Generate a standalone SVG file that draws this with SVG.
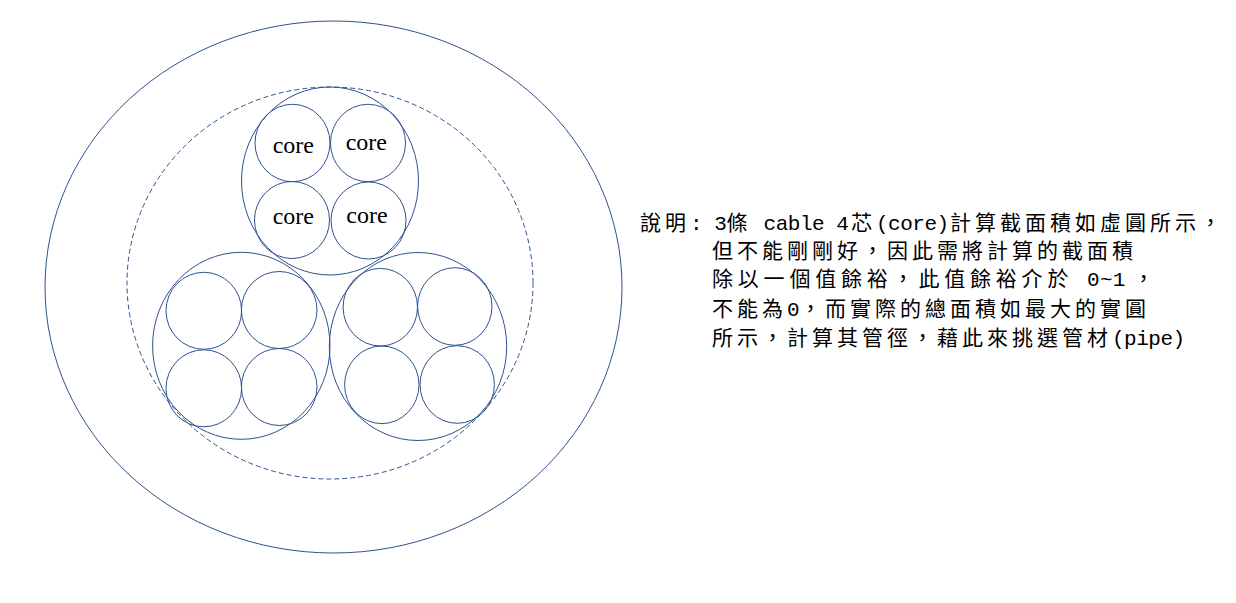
<svg xmlns="http://www.w3.org/2000/svg" width="1236" height="603" viewBox="0 0 1236 603">
<style>
.c{fill:none;stroke:#2F528F;stroke-width:1}
.d{fill:none;stroke:#2F528F;stroke-width:1;stroke-dasharray:5 3}
.core{font-family:"Liberation Serif","Times New Roman",serif;font-size:24px;fill:#000;text-anchor:middle}
.t{font-family:"Noto Sans CJK TC","Liberation Sans",sans-serif;font-size:21px;fill:#000}
.k{letter-spacing:4px}
.l{font-family:"Liberation Mono","Noto Sans CJK TC",monospace;font-size:21px;letter-spacing:-0.5px}
</style>
<rect width="1236" height="603" fill="#fff"/>
<g id="outer-pipe"><ellipse class="c" cx="333.5" cy="287" rx="288.5" ry="266"/></g>
<g id="dashed-area"><ellipse class="d" cx="330" cy="283" rx="203" ry="196"/></g>
<g id="cable-top">
<ellipse class="c" cx="330" cy="181" rx="88.5" ry="94"/>
<ellipse class="c" cx="292.5" cy="143" rx="37.5" ry="38.7"/>
<ellipse class="c" cx="368" cy="143" rx="37.5" ry="38.7"/>
<ellipse class="c" cx="292" cy="220" rx="37.5" ry="38.5"/>
<ellipse class="c" cx="368.5" cy="220.5" rx="37.5" ry="38.5"/>
<text class="core" x="293.3" y="152.5">core</text>
<text class="core" x="366.3" y="150">core</text>
<text class="core" x="293.3" y="224">core</text>
<text class="core" x="367" y="222.5">core</text>
</g>
<g id="cable-left">
<ellipse class="c" cx="241.3" cy="345.8" rx="88.7" ry="93.5"/>
<ellipse class="c" cx="203.8" cy="310.8" rx="37.8" ry="38.5"/>
<ellipse class="c" cx="279.2" cy="310" rx="37.8" ry="38.5"/>
<ellipse class="c" cx="203.8" cy="388.3" rx="37.8" ry="38.5"/>
<ellipse class="c" cx="279.2" cy="387" rx="37.8" ry="38.5"/>
</g>
<g id="cable-right">
<ellipse class="c" cx="418" cy="346.5" rx="88.7" ry="94"/>
<ellipse class="c" cx="380.3" cy="307.2" rx="37.2" ry="38.8"/>
<ellipse class="c" cx="454.8" cy="306.5" rx="37.2" ry="38.8"/>
<ellipse class="c" cx="381.8" cy="384.8" rx="37.2" ry="38.8"/>
<ellipse class="c" cx="457.2" cy="384.5" rx="37.2" ry="38.8"/>
</g>
<g id="explanation" class="t">
<text y="229.5"><tspan class="k" x="640">說明</tspan><tspan class="l" x="690">: 3</tspan><tspan class="k" x="726.5">條</tspan><tspan class="l" x="751.5"> cable 4</tspan><tspan class="k" x="851">芯</tspan><tspan class="l" x="876">(core)</tspan><tspan class="k" x="950">計算截面積如虛圓所示，</tspan></text>
<text y="257.5"><tspan class="k" x="712">但不能剛剛好，因此需將計算的截面積</tspan></text>
<text y="285.5"><tspan class="k" x="712" style="letter-spacing:4.8px">除以一個值餘裕，此值餘裕介於</tspan><tspan class="l" x="1087" style="letter-spacing:0.3px">0~1</tspan><tspan class="k" x="1133">，</tspan></text>
<text y="316"><tspan class="k" x="712">不能為</tspan><tspan class="l" x="787">0</tspan><tspan class="k" x="800">，而實際的總面積如最大的實圓</tspan></text>
<text y="345"><tspan class="k" x="712">所示，計算其管徑，藉此來挑選管材</tspan><tspan class="l" x="1112">(pipe)</tspan></text>
</g>
</svg>
